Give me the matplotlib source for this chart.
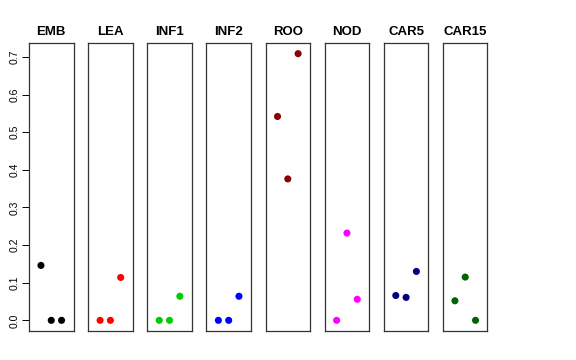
import numpy as np
import matplotlib
matplotlib.use("Agg")
import matplotlib.pyplot as plt

plt.rcParams['font.family'] = ['Liberation Sans', 'DejaVu Sans']

tissues = ['EMB', 'LEA', 'INF1', 'INF2', 'ROO', 'NOD', 'CAR5', 'CAR15']
colors = ['black', 'red', '#00CD00', 'blue', '#8B0000', 'magenta', '#000080', '#006400']
x_pos = [1, 2, 3]
values = {
    'EMB':   [0.146, 0.0, 0.0],
    'LEA':   [0.0, 0.0, 0.114],
    'INF1':  [0.0, 0.0, 0.064],
    'INF2':  [0.0, 0.0, 0.064],
    'ROO':   [0.542, 0.376, 0.709],
    'NOD':   [0.0, 0.232, 0.056],
    'CAR5':  [0.066, 0.061, 0.130],
    'CAR15': [0.052, 0.115, 0.0],
}
yticks = [0.0, 0.1, 0.2, 0.3, 0.4, 0.5, 0.6, 0.7]

W, H = 576, 360
fig = plt.figure(figsize=(W / 100, H / 100), dpi=100)

ymax = max(max(v) for v in values.values())
pad = 0.04 * ymax
for i, name in enumerate(tissues):
    left = 29 + 59.14 * i
    ax = fig.add_axes([left / W, 1 - 331 / H, 44.5 / W, 288 / H])
    ax.scatter(x_pos, values[name], s=26, color=colors[i], edgecolors='none', zorder=3)
    ax.set_xlim(-0.16, 4.16)
    ax.set_ylim(-pad, ymax + pad)
    ax.set_xticks([])
    ax.set_title(name, fontsize=9.5, fontweight='bold', pad=6)
    for sp in ax.spines.values():
        sp.set_linewidth(0.9)
        sp.set_color('#333333')
    if i == 0:
        ax.set_yticks(yticks)
        ax.set_yticklabels(['%.1f' % t for t in yticks], rotation=90, va='center', fontsize=7.5)
        ax.tick_params(axis='y', length=5, width=0.7, pad=2)
    else:
        ax.set_yticks([])

fig.savefig('out.png', dpi=100)
